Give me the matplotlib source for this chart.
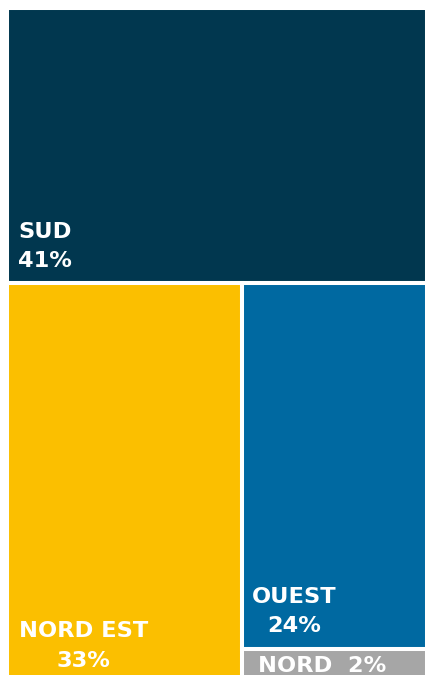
import matplotlib
matplotlib.use("Agg")
import matplotlib.pyplot as plt
from matplotlib.patches import Rectangle

# Regional shares (%)
regions = ["SUD", "NORD EST", "OUEST", "NORD"]
shares = [41, 33, 24, 2]
colors = ["#01374f", "#fbbf00", "#0069a1", "#a6a6a6"]

W_PX, H_PX = 425, 675
fig = plt.figure(figsize=(W_PX / 100, H_PX / 100), dpi=100)
ax = fig.add_axes([0, 0, 1, 1])
ax.set_xlim(0, W_PX)
ax.set_ylim(H_PX, 0)
ax.axis("off")

# Treemap area (extends slightly past the canvas on the right and bottom)
X0, Y0, W, H = 7, 8, 420, 671
total = sum(shares)

# Slice-and-dice layout: first region takes a full-width band on top,
# the remainder is split into columns, the last column stacked vertically.
s_sud, s_ne, s_ou, s_no = shares
h_top = H * s_sud / total
rest = total - s_sud
y_mid = Y0 + h_top
h_bot = H - h_top
w_ne = W * s_ne / rest
w_right = W - w_ne
h_ou = h_bot * s_ou / (s_ou + s_no)

rects = {
    "SUD": (X0, Y0, W, h_top),
    "NORD EST": (X0, y_mid, w_ne, h_bot),
    "OUEST": (X0 + w_ne, y_mid, w_right, h_ou),
    "NORD": (X0 + w_ne, y_mid + h_ou, w_right, h_bot - h_ou),
}

for name, col in zip(regions, colors):
    x, y, w, h = rects[name]
    ax.add_patch(Rectangle((x, y), w, h, facecolor=col, edgecolor="white",
                           linewidth=2.9))

font = dict(family="DejaVu Sans", weight="bold", color="white", fontsize=16.2)

fig.canvas.draw()
renderer = fig.canvas.get_renderer()
inv = ax.transData.inverted()

def two_line_label(name, share, dx, dy_name, dy_pct):
    x, y, w, h = rects[name]
    bottom = y + h
    t = ax.text(x + dx, bottom + dy_name, name, ha="left", va="baseline", **font)
    bb = t.get_window_extent(renderer=renderer)
    (x_a, _), (x_b, _) = inv.transform([(bb.x0, bb.y0), (bb.x1, bb.y1)])
    ax.text((x_a + x_b) / 2, bottom + dy_pct, f"{share}%", ha="center",
            va="baseline", **font)

two_line_label("SUD", s_sud, 11, -45.5, -16)
two_line_label("NORD EST", s_ne, 12, -42, -12)
two_line_label("OUEST", s_ou, 10, -46, -16.5)

x, y, w, h = rects["NORD"]
ax.text(x + 16, y + 23.5, f"NORD  {s_no}%", ha="left", va="baseline", **font)

fig.savefig("out.png", dpi=100)
